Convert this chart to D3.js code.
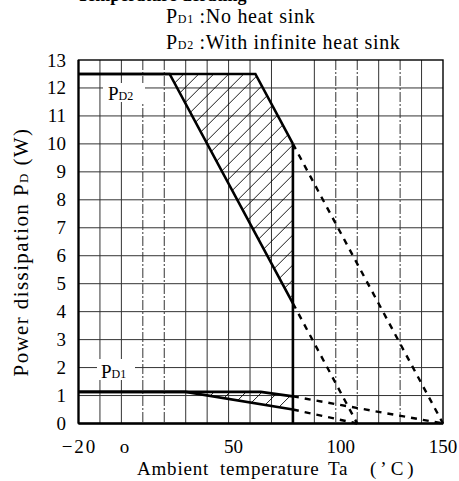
<!DOCTYPE html>
<html><head><meta charset="utf-8">
<script src="https://cdn.jsdelivr.net/npm/d3@7/dist/d3.min.js"></script>
<style>body{margin:0;background:#fff}svg{display:block}text{font-family:"Liberation Serif","DejaVu Serif",serif;fill:#000}</style>
</head><body><svg id="c" width="459" height="481"></svg>
<script>
// ---- data ----
const xTickValues = [-20, 0, 50, 100, 150];
const xTickLabels = ["\u221220", "o", "50", "100", "150"];
const yTickValues = [0,1,2,3,4,5,6,7,8,9,10,11,12,13];
const xGrid = [-10,0,10,20,30,40,50,60,70,90,100,110,120,130,140];
const xGridDashDot = [10,20,100,110,130];
const yGrid = [1,2,3,4,5,6,7,8,9,10,11,12];
const xTitleWords = ["Ambient", "temperature", "Ta", "(\u2019C)"];
// PD2 (with infinite heat sink)
const pd2Upper = [[-20,12.5],[62.5,12.5],[80,10]];
const pd2Lower = [[-20,12.5],[22.5,12.5],[80,4.3]];
const pd2UpperDash = [[80,10],[150,0]];
const pd2LowerDash = [[80,4.3],[110,0]];
// PD1 (no heat sink)
const pd1Upper = [[-20,1.13],[65,1.13],[80,0.97]];
const pd1Lower = [[-20,1.13],[30,1.13],[80,0.5]];
const pd1UpperDash = [[80,0.97],[150,0]];
const pd1LowerDash = [[80,0.5],[110,0]];
const pd2Hatch = [[22.5,12.5],[62.5,12.5],[80,10],[80,4.3]];
const pd1Hatch = [[30,1.13],[65,1.13],[80,0.97],[80,0.5]];
const limitLine = [[80,10],[80,0]];

const svg = d3.select("#c");
const x = d3.scaleLinear().domain([-20,150]).range([78.5,443]);
const y = d3.scaleLinear().domain([0,13]).range([423.5,60]);
const line = d3.line().x(d=>x(d[0])).y(d=>y(d[1]));

// heading fragment (cut off at top, as in the reference)
svg.append("text").attr("x",77).attr("y",1).attr("font-weight","bold").attr("font-size",18).text("Temperature derating");

// legend
function pdText(g, xx, yy, sub, rest, big, small, ls){
  const t = g.append("text").attr("x",xx).attr("y",yy).attr("font-size",big);
  if(ls) t.attr("letter-spacing",ls);
  t.append("tspan").text("P");
  t.append("tspan").attr("font-size",small).text(sub);
  if(rest) t.append("tspan").text(rest);
  return t;
}
pdText(svg,166,23,"D1"," :No heat sink",20,12,0.7);
pdText(svg,166,49,"D2"," :With infinite heat sink",20,12,0.7);

// grid
const grid = svg.append("g").attr("stroke","#333").attr("stroke-width",1);
grid.selectAll("line.v").data(xGrid).join("line")
  .attr("x1",d=>x(d)).attr("x2",d=>x(d)).attr("y1",y(13)).attr("y2",y(0))
  .attr("stroke-dasharray",d=>xGridDashDot.includes(d)?"10,2,2,2":null);
grid.selectAll("line.h").data(yGrid).join("line")
  .attr("y1",d=>y(d)).attr("y2",d=>y(d)).attr("x1",x(-20)).attr("x2",x(150));

// hatch
function hatch(poly, id, step){
  const pts = poly.map(p=>[x(p[0]),y(p[1])]);
  svg.append("clipPath").attr("id",id).append("polygon").attr("points",pts.map(p=>p.join(",")).join(" "));
  const xs = pts.map(p=>p[0]), ys = pts.map(p=>p[1]);
  const x0=d3.min(xs), x1=d3.max(xs), y0=d3.min(ys), y1=d3.max(ys);
  const h = y1-y0;
  const starts = d3.range(x0-h*1.2, x1+step, step);
  svg.append("g").attr("clip-path",`url(#${id})`).attr("stroke","#000").attr("stroke-width",0.9)
    .selectAll("line").data(starts).join("line")
    .attr("x1",d=>d).attr("y1",y1).attr("x2",d=>d+h*1.0).attr("y2",y0);
}
hatch(pd2Hatch,"h2",15);
hatch(pd1Hatch,"h1",16);

// frame
svg.append("rect").attr("x",x(-20)).attr("y",y(13)).attr("width",x(150)-x(-20)).attr("height",y(0)-y(13))
  .attr("fill","none").attr("stroke","#000").attr("stroke-width",1.4);
svg.append("line").attr("x1",x(-20)).attr("x2",x(-20)).attr("y1",y(13)).attr("y2",y(0)).attr("stroke","#000").attr("stroke-width",2.2);
svg.append("line").attr("x1",x(-20)).attr("x2",x(150)).attr("y1",y(0)).attr("y2",y(0)).attr("stroke","#000").attr("stroke-width",2.4);

// curves
const solid = svg.append("g").attr("fill","none").attr("stroke","#000").attr("stroke-width",2.6);
[pd2Upper,pd2Lower,pd1Upper,pd1Lower,limitLine].forEach(d=>solid.append("path").attr("d",line(d)));
const dash = svg.append("g").attr("fill","none").attr("stroke","#000").attr("stroke-width",2.4).attr("stroke-dasharray","6,6");
[pd2UpperDash,pd2LowerDash,pd1UpperDash,pd1LowerDash].forEach(d=>dash.append("path").attr("d",line(d)));

// curve labels
svg.append("rect").attr("x",103).attr("y",83).attr("width",42).attr("height",19).attr("fill","#fff");
pdText(svg,108,100,"D2",null,19,12);
svg.append("rect").attr("x",97).attr("y",359).attr("width",38).attr("height",21).attr("fill","#fff");
pdText(svg,101,378,"D1",null,19,12);

// axes ticks
svg.append("g").selectAll("text").data(yTickValues).join("text")
  .attr("x",66).attr("y",d=>y(d)+6.5).attr("text-anchor","end").attr("font-size",19).text(d=>d);
svg.append("g").selectAll("text").data(xTickValues).join("text")
  .attr("x",(d,i)=>x(d)+(i==0?1:i==1?3:i==4?0:5)).attr("y",453).attr("text-anchor","middle").attr("font-size",19)
  .attr("letter-spacing",(d,i)=>i==0?2:0)
  .text((d,i)=>xTickLabels[i]);

// axis titles
const xtPos = [137, 220, 328, 370];
svg.append("g").selectAll("text").data(xTitleWords).join("text")
  .attr("x",(d,i)=>xtPos[i]).attr("y",475).attr("font-size",19)
  .attr("letter-spacing",(d,i)=>i==3?4:0.8).text(d=>d);
const yt = svg.append("text").attr("transform","translate(28,252) rotate(-90)").attr("text-anchor","middle")
  .attr("font-size",21).attr("letter-spacing",1.4);
yt.append("tspan").text("Power dissipation P");
yt.append("tspan").attr("font-size",13).text("D");
yt.append("tspan").text(" (W)");
</script></body></html>
